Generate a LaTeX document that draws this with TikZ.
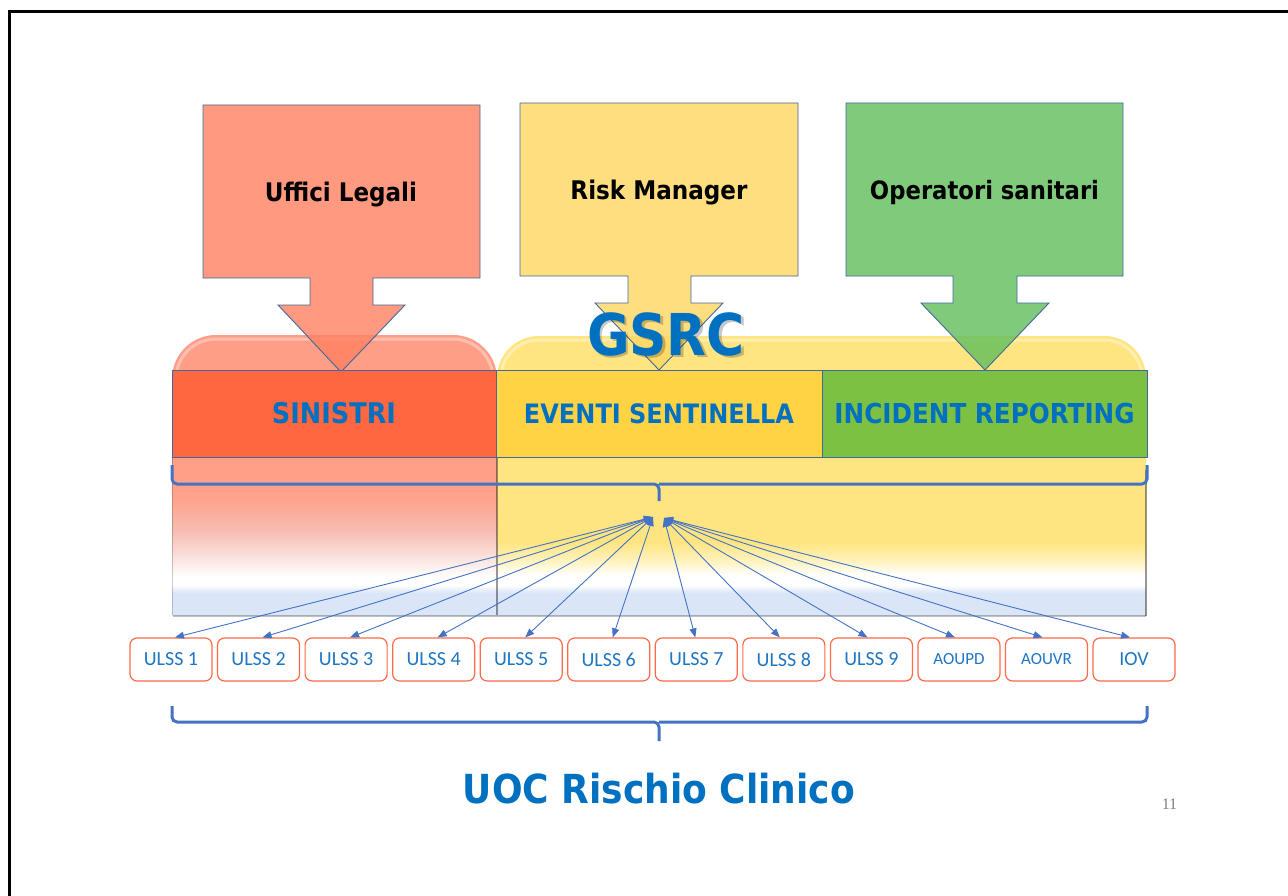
\documentclass[tikz,border=0pt]{standalone}
\usepackage{graphicx}
\usepackage{fontspec}
\usetikzlibrary{arrows.meta,calc}
\newfontfamily\tahfont{DejaVu Sans Condensed}
\newfontfamily\calfont{Carlito}
\newfontfamily\pnumfont{Liberation Serif}
\definecolor{bordc}{RGB}{65,105,160}
\definecolor{arrc}{RGB}{68,114,196}
\definecolor{txtblue}{RGB}{0,112,192}
\definecolor{ulssblue}{RGB}{30,118,196}
\definecolor{ulssred}{RGB}{255,106,72}
\definecolor{redc}{RGB}{255,128,96}
\definecolor{yelc}{RGB}{255,214,96}
\definecolor{grnc}{RGB}{96,191,90}
\definecolor{redtop}{RGB}{255,158,135}
\definecolor{redb}{RGB}{255,161,140}
\definecolor{redmid}{RGB}{246,188,176}
\definecolor{redpale}{RGB}{250,218,212}
\definecolor{yeltop}{RGB}{255,229,130}
\definecolor{yelmid}{RGB}{255,243,192}
\definecolor{lblue}{RGB}{218,230,248}
\definecolor{sinc}{RGB}{255,103,64}
\definecolor{evec}{RGB}{255,211,68}
\definecolor{incc}{RGB}{125,193,66}
\pgfdeclareverticalshading{redfade}{100bp}{color(0bp)=(lblue); color(25bp)=(lblue); color(32bp)=(lblue); color(34.5bp)=(white); color(37bp)=(white); color(45bp)=(redpale); color(52bp)=(redmid); color(62bp)=(redb); color(75bp)=(redtop); color(100bp)=(redtop)}
\pgfdeclareverticalshading{yelfade}{100bp}{color(0bp)=(lblue); color(25bp)=(lblue); color(32bp)=(lblue); color(34.5bp)=(white); color(37.5bp)=(white); color(42bp)=(yelmid); color(48bp)=(yeltop); color(75bp)=(yeltop); color(100bp)=(yeltop)}
\tikzset{
  callout/.style={draw=bordc, line width=0.9pt, fill opacity=0.8},
  band/.style={draw=bordc, line width=0.8pt, minimum height=87pt, inner sep=0pt, text=txtblue},
  ulss/.style={draw=ulssred, line width=1.2pt, fill=white, rounded corners=7pt, minimum width=82pt, minimum height=43pt, inner sep=0pt, text=ulssblue},
  conn/.style={draw=arrc, line width=0.9pt, {Triangle[length=9pt,width=7pt]}-{Triangle[length=9pt,width=7pt]}},
  brace/.style={draw=arrc, line width=3pt, rounded corners=5pt},
  toplabel/.style={anchor=base, text=black, inner sep=0pt},
  edgeshadow/.style={draw=black, opacity=0.4, line width=1.6pt},
}
\begin{document}
\begin{tikzpicture}[x=1pt,y=-1pt]
\useasboundingbox (0,0) rectangle (1288,896);
\fill[white] (0,0) rectangle (1288,896);
% frame
\draw[line width=2.6pt, black] (9.5,896) -- (9.5,11.5) -- (1288,11.5);

% rounded backgrounds
\path[fill=redtop] (172,615) [rounded corners=44pt] -- (172,335) -- (497,335) [sharp corners] -- (497,615) -- cycle;
\path[fill=yeltop] (497,615) [rounded corners=42pt] -- (497,336) -- (1146,336) [sharp corners] -- (1146,615) -- cycle;
\draw[white, opacity=0.35, line width=3pt, rounded corners=40pt] (176,372) -- (176,339) -- (493,339) -- (493,372);
\draw[white, opacity=0.35, line width=3pt, rounded corners=38pt] (501,372) -- (501,340) -- (1142,340) -- (1142,372);
\shade[shading=redfade] (172,457) rectangle (497,615);
\shade[shading=yelfade] (497,457) rectangle (1146,615);
\draw[edgeshadow] (497,457) -- (497,615);
\draw[edgeshadow] (1146,470) -- (1146,616);
\draw[edgeshadow, opacity=0.2] (172.5,457) -- (172.5,615);
\draw[edgeshadow, opacity=0.25] (173,616) -- (1146,616);

% callouts
\filldraw[callout, fill=redc] (203,105) -- (480,105) -- (480,278) -- (373,278) -- (373,305) -- (405,305) -- (341,372) -- (278,305) -- (310,305) -- (310,278) -- (203,278) -- cycle;
\filldraw[callout, fill=yelc] (520,103) -- (798,103) -- (798,276) -- (691,276) -- (691,303) -- (723,303) -- (659,370) -- (595,303) -- (628,303) -- (628,276) -- (520,276) -- cycle;
\filldraw[callout, fill=grnc] (846,103) -- (1123,103) -- (1123,276) -- (1017,276) -- (1017,303) -- (1049,303) -- (985,370) -- (921,303) -- (953,303) -- (953,276) -- (846,276) -- cycle;
\node[toplabel] (ul) at (341,202) {\resizebox{152pt}{!}{\tahfont\bfseries Uffici Legali}};
\node[toplabel] (rm) at (659,200) {\resizebox{177pt}{!}{\tahfont\bfseries Risk Manager}};
\node[toplabel] (os) at (984.5,200) {\resizebox{229pt}{!}{\tahfont\bfseries Operatori sanitari}};

% GSRC with soft shadow
\node[anchor=base, inner sep=0pt, text=black, opacity=0.22] (gsrcsh) at (668.5,357.5) {\resizebox{158pt}{!}{\tahfont\bfseries GSRC}};
\node[anchor=base, inner sep=0pt, text=txtblue] (gsrc) at (666,355) {\resizebox{158pt}{!}{\tahfont\bfseries GSRC}};

% bands
\node[band, fill=sinc, minimum width=324pt] (sin) at (334,413.5) {\resizebox{124pt}{!}{\tahfont\bfseries SINISTRI}};
\node[band, fill=evec, minimum width=326pt] (eve) at (659,413.5) {\resizebox{270pt}{!}{\tahfont\bfseries EVENTI SENTINELLA}};
\node[band, fill=incc, minimum width=325pt] (inc) at (984.5,413.5) {\resizebox{300pt}{!}{\tahfont\bfseries INCIDENT REPORTING}};

% top brace
\draw[brace] (172,465) |- (659,484) -- (659,501);
\draw[brace] (1147,465) |- (659,484);

% ULSS boxes
\foreach \k/\t/\fs in {1/ULSS 1/20,2/ULSS 2/20,3/ULSS 3/20,4/ULSS 4/20,5/ULSS 5/20,6/ULSS 6/20,7/ULSS 7/20,8/ULSS 8/20,9/ULSS 9/20,10/AOUPD/17,11/AOUVR/17,12/IOV/20}{
  \node[ulss, font=\calfont\fontsize{\fs}{\fs}\selectfont] (u\k) at ({171+87.55*(\k-1)},659.5) {\t};
}

% connectors
\coordinate (hubL) at (653,517);
\coordinate (hubR) at (664,518);
\foreach \k in {1,...,6}{\draw[conn] (hubL) -- ([xshift=4pt]u\k.north);}
\draw[conn] (hubR) -- ([xshift=-1pt]u7.north);
\foreach \k in {8,...,12}{\draw[conn] (hubR) -- ([xshift=-4pt]u\k.north);}

% bottom brace
\draw[brace] (172,706) |- (659,722) -- (659,741);
\draw[brace] (1147,706) |- (659,722);

\node[anchor=base, inner sep=0pt, text=txtblue] (uoc) at (659,803) {\resizebox{392pt}{!}{\tahfont\bfseries UOC Rischio Clinico}};
\node[anchor=base, inner sep=0pt, text=black!50, font=\pnumfont\fontsize{16}{16}\selectfont] (pg) at (1169.5,809) {11};
\end{tikzpicture}
\end{document}
